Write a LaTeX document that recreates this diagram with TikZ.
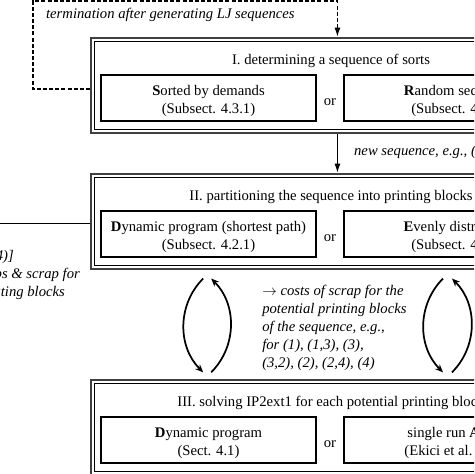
\documentclass[tikz,border=0pt]{standalone}
\usepackage{fontspec}
\setmainfont{Liberation Serif}
\usetikzlibrary{arrows.meta, calc}

\begin{document}
\fontsize{11}{13.5}\selectfont
\begin{tikzpicture}[x=.75pt, y=-.75pt,
stage/.style={draw=black!75, line width=1.4pt, anchor=north west, inner sep=0pt,
  minimum width=369.75pt, minimum height=71.25pt,
  path picture={\draw[black, line width=.7pt]
    ([shift={(2.4pt,-2.4pt)}]path picture bounding box.north west) rectangle
    ([shift={(-2.4pt,2.4pt)}]path picture bounding box.south east);}},
head/.style={anchor=base},
opt/.style={draw, line width=.9pt, minimum width=161.25pt, minimum height=34.5pt, inner sep=0pt, align=center,
  execute at begin node={\rule{0pt}{26pt}}},
optw/.style={opt, minimum width=171pt},
note/.style={font=\itshape},
flow/.style={line width=1.1pt, -{Latex[length=7pt,width=4.5pt]}},
loopback/.style={flow, dash pattern=on 3pt off 1.6pt},
cyc/.style={line width=1.3pt, -{Stealth[length=6pt,width=5pt]}}]
\useasboundingbox (0,0) rectangle (474,474);
\clip (0,0) rectangle (474,474);
\begin{scope}
\node[stage] (st1) at (90,37) {};
\node[head] (h1) at (331,65) {I. determining a sequence of sorts};
\node[opt] (o1a) at (208.5,98) {\textbf{S}orted by demands\\(Subsect. 4.3.1)};
\node (or1) at (330,102) {or};
\node[optw] (o1b) at (458,98) {\textbf{R}andom sequence\\(Subsect. 4.3.2)};
\end{scope}
\begin{scope}[yshift=-102pt]
\node[stage] (st2) at (90,37) {};
\node[head] (h2) at (331,64.5) {II. partitioning the sequence into printing blocks};
\node[opt] (o2a) at (208.5,98) {\textbf{D}ynamic program (shortest path)\\(Subsect. 4.2.1)};
\node (or2) at (330,102) {or};
\node[optw] (o2b) at (458,98) {\textbf{E}venly distributed\\(Subsect. 4.2.2)};
\end{scope}
\begin{scope}[yshift=-256.5pt]
\node[stage] (st3) at (90,37) {};
\node[head] (h3) at (331,64.5) {III. solving IP2ext1 for each potential printing block};
\node[opt] (o3a) at (208.5,98) {\textbf{D}ynamic program\\(Sect. 4.1)};
\node (or3) at (330,102) {or};
\node[optw] (o3b) at (458,98) {single run \textbf{ALNS}\\(Ekici et al. 2010)};
\end{scope}
\coordinate (lp) at (33,1);
\draw[loopback] ([yshift=-2.6pt]st1.west) -| (lp) -| (st1.north);
\node[note, anchor=base west] (term) at (41,19) {termination after generating LJ sequences};
\draw[flow] (st1.south) -- (st2.north);
\node[note, anchor=base west] (nseq) at (349,156) {new sequence, e.g., (1,3,2,4)};
\coordinate (out2) at (-40,0);
\draw[line width=.8pt] ([yshift=-1.2pt]st2.west) -- ([yshift=-1.2pt]st2.west -| out2);
\node[note, anchor=base east] (lt1) at (19,260) {[(1,3), (2,4)]};
\node[note, anchor=base east] (lt2) at (85,278) {costs of setups \& scrap for};
\node[note, anchor=base east] (lt3) at (70,296) {the separating blocks};
\node[note, anchor=north west, align=left, inner sep=0pt] (costs) at (262,285)
  {$\rightarrow$ costs of scrap for the\\potential printing blocks\\of the sequence, e.g.,\\for (1), (1,3), (3),\\(3,2), (2), (2,4), (4)};
\draw[cyc] ($(o2a.south |- st2.south)+(-4pt,-6.5pt)$) to[bend right=45] ($(o3a.north |- st3.north)+(-4pt,5pt)$);
\draw[cyc] ($(o3a.north |- st3.north)+(2pt,5pt)$) to[bend right=45] ($(o2a.south |- st2.south)+(2pt,-6.5pt)$);
\draw[cyc] ($(o2b.south |- st2.south)+(-11.25pt,-6.5pt)$) to[bend right=45] ($(o3b.north |- st3.north)+(-11.25pt,5pt)$);
\draw[cyc] ($(o3b.north |- st3.north)+(-4.5pt,5pt)$) to[bend right=45] ($(o2b.south |- st2.south)+(-4.5pt,-6.5pt)$);
\end{tikzpicture}
\end{document}
